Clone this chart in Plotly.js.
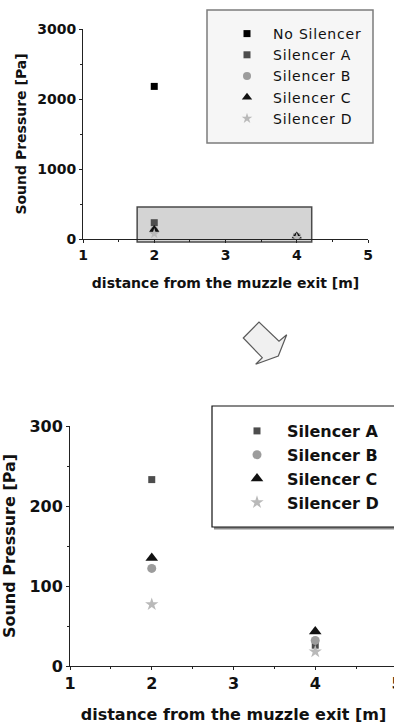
<!DOCTYPE html>
<html>
<head>
<meta charset="utf-8">
<script src="https://cdn.plot.ly/plotly-3.0.1.min.js"></script>
<style>
  html, body { margin: 0; padding: 0; background: #fff; overflow: hidden; }
  #chart { width: 420px; height: 734px; }
  /* slightly tracked legend labels on the overview plot */
  text.legendtext:not([style*="bold"]) { letter-spacing: 0.8px; }
</style>
</head>
<body>
<div id="chart"></div>
<script>
// Sound pressure measured at each distance from the muzzle exit
const distance = [2, 4];
const noSilencerDistance = [2];
const noSilencer = [2180];
const silencerA = [233, 26];
const silencerB = [122, 32];
const silencerC = [135, 43];
const silencerD = [77, 18];

const seriesNames = ['No Silencer', 'Silencer A', 'Silencer B', 'Silencer C', 'Silencer D'];
const distanceTicks = [1, 2, 3, 4, 5];
const overviewPressureTicks = [0, 1000, 2000, 3000];
const detailPressureTicks = [0, 100, 200, 300];

// region of the overview that the lower plot enlarges
const enlargedDistance = [1.76, 4.21];
const enlargedPressure = [-43, 457];

const W = 420, H = 734;
const px = x => x / W;
const py = y => 1 - y / H;

const FONT = 'DejaVu Sans';
const INK = '#111111';

const look = {
  'No Silencer': { symbol: 'square',      color: '#000000', small: 7, big: 7 },
  'Silencer A':  { symbol: 'square',      color: '#4d4d4d', small: 7, big: 7 },
  'Silencer B':  { symbol: 'circle',      color: '#9c9c9c', small: 8, big: 9 },
  'Silencer C':  { symbol: 'triangle-up', color: '#111111', small: 9, big: 11 },
  'Silencer D':  { symbol: 'star',        color: '#b9b9b9', small: 8, big: 10 }
};

const seriesData = {
  'No Silencer': [noSilencerDistance, noSilencer],
  'Silencer A': [distance, silencerA],
  'Silencer B': [distance, silencerB],
  'Silencer C': [distance, silencerC],
  'Silencer D': [distance, silencerD]
};

const traces = [];
seriesNames.forEach(name => {
  const [xs, ys] = seriesData[name];
  const s = look[name];
  traces.push({
    type: 'scatter', mode: 'markers', name: name,
    x: xs, y: ys, xaxis: 'x', yaxis: 'y', legend: 'legend',
    marker: { symbol: s.symbol, color: s.color, size: s.small, line: { width: 0 } },
    hoverinfo: 'x+y+name'
  });
});
seriesNames.slice(1).forEach(name => {
  const [xs, ys] = seriesData[name];
  const s = look[name];
  traces.push({
    type: 'scatter', mode: 'markers', name: name,
    x: xs, y: ys, xaxis: 'x2', yaxis: 'y2', legend: 'legend2',
    marker: { symbol: s.symbol, color: s.color, size: s.big, line: { width: 0 } },
    hoverinfo: 'x+y+name'
  });
});

function axis(opts) {
  const f = { family: FONT, size: opts.fontSize, color: INK, weight: 'bold' };
  return {
    domain: opts.domain, range: opts.range, anchor: opts.anchor,
    tickmode: 'array', tickvals: opts.ticks, ticktext: opts.ticks.map(String),
    showline: true, linecolor: '#222', linewidth: 1,
    ticks: 'outside', ticklen: 3, tickwidth: 1, tickcolor: '#222',
    minor: { tickmode: 'array', tickvals: opts.minor, ticks: 'outside', ticklen: 2, tickwidth: 1, tickcolor: '#222', showgrid: false },
    showgrid: false, zeroline: false, fixedrange: true,
    tickfont: f,
    title: { text: opts.title, font: f, standoff: opts.standoff }
  };
}

const halfSteps = (a, b, step) => {
  const out = [];
  for (let v = a + step / 2; v < b; v += step) out.push(v);
  return out;
};

const layout = {
  width: W, height: H,
  margin: { l: 0, r: 0, t: 0, b: 0, pad: 0 },
  paper_bgcolor: '#ffffff', plot_bgcolor: 'rgba(0,0,0,0)',
  showlegend: true,
  xaxis: axis({ domain: [px(83), px(368)], range: [1, 5], anchor: 'y', ticks: distanceTicks, minor: halfSteps(1, 5, 1),
                fontSize: 14, title: 'distance from the muzzle exit [m]', standoff: 16 }),
  yaxis: axis({ domain: [py(239), py(29)], range: [0, 3000], anchor: 'x', ticks: overviewPressureTicks, minor: halfSteps(0, 3000, 1000),
                fontSize: 14, title: 'Sound Pressure [Pa]', standoff: 7 }),
  xaxis2: axis({ domain: [px(70), px(397)], range: [1, 5], anchor: 'y2', ticks: distanceTicks, minor: halfSteps(1, 5, 1),
                 fontSize: 16, title: 'distance from the muzzle exit [m]', standoff: 16 }),
  yaxis2: axis({ domain: [py(666), py(426)], range: [0, 300], anchor: 'x2', ticks: detailPressureTicks, minor: halfSteps(0, 300, 100),
                 fontSize: 16, title: 'Sound Pressure [Pa]', standoff: 10 }),
  legend: {
    x: px(221), y: py(18), xanchor: 'left', yanchor: 'top',
    bgcolor: 'rgba(0,0,0,0)', borderwidth: 0, itemwidth: 42, tracegroupgap: 0,
    font: { family: FONT, size: 14, color: INK, weight: 'normal' }
  },
  legend2: {
    x: px(227), y: py(414), xanchor: 'left', yanchor: 'top',
    bgcolor: 'rgba(0,0,0,0)', borderwidth: 0, itemwidth: 50, tracegroupgap: 0,
    font: { family: FONT, size: 16, color: INK, weight: 'bold' }
  },
  shapes: [
    // enlarged region on the overview
    { type: 'rect', xref: 'x', yref: 'y domain', layer: 'below',
      x0: enlargedDistance[0], x1: enlargedDistance[1],
      y0: enlargedPressure[0] / 3000, y1: enlargedPressure[1] / 3000,
      fillcolor: '#d4d4d4', line: { color: '#4a4a4a', width: 1.5 } },
    // overview legend frame
    { type: 'rect', xref: 'paper', yref: 'paper', layer: 'above',
      x0: px(207), x1: px(373), y0: py(143), y1: py(10),
      fillcolor: '#f6f6f6', line: { color: '#7c7c7c', width: 1.5 } },
    // detail legend frame with drop shadow
    { type: 'rect', xref: 'paper', yref: 'paper', layer: 'above',
      x0: px(214), x1: px(440), y0: py(529.5), y1: py(408),
      fillcolor: '#8c8c8c', line: { width: 0 } },
    { type: 'rect', xref: 'paper', yref: 'paper', layer: 'above',
      x0: px(212), x1: px(440), y0: py(527), y1: py(406),
      fillcolor: '#ffffff', line: { color: '#111111', width: 1.2 } }
  ]
};

// block arrow pointing from the overview down to the detail plot
const arrowPts = [[243.3, 338], [259, 322], [279, 341.3], [286.7, 334.7], [278.3, 356], [255.7, 364.3], [262.3, 357.7]];
layout.shapes.push({
  type: 'path', xref: 'paper', yref: 'paper', layer: 'above',
  path: 'M ' + arrowPts.map(p => px(p[0]).toFixed(5) + ',' + py(p[1]).toFixed(5)).join(' L ') + ' Z',
  fillcolor: '#f0f0f0', line: { color: '#5a5a5a', width: 1.2 }
});

Plotly.newPlot('chart', traces, layout, { displayModeBar: false, staticPlot: true });
</script>
</body>
</html>
